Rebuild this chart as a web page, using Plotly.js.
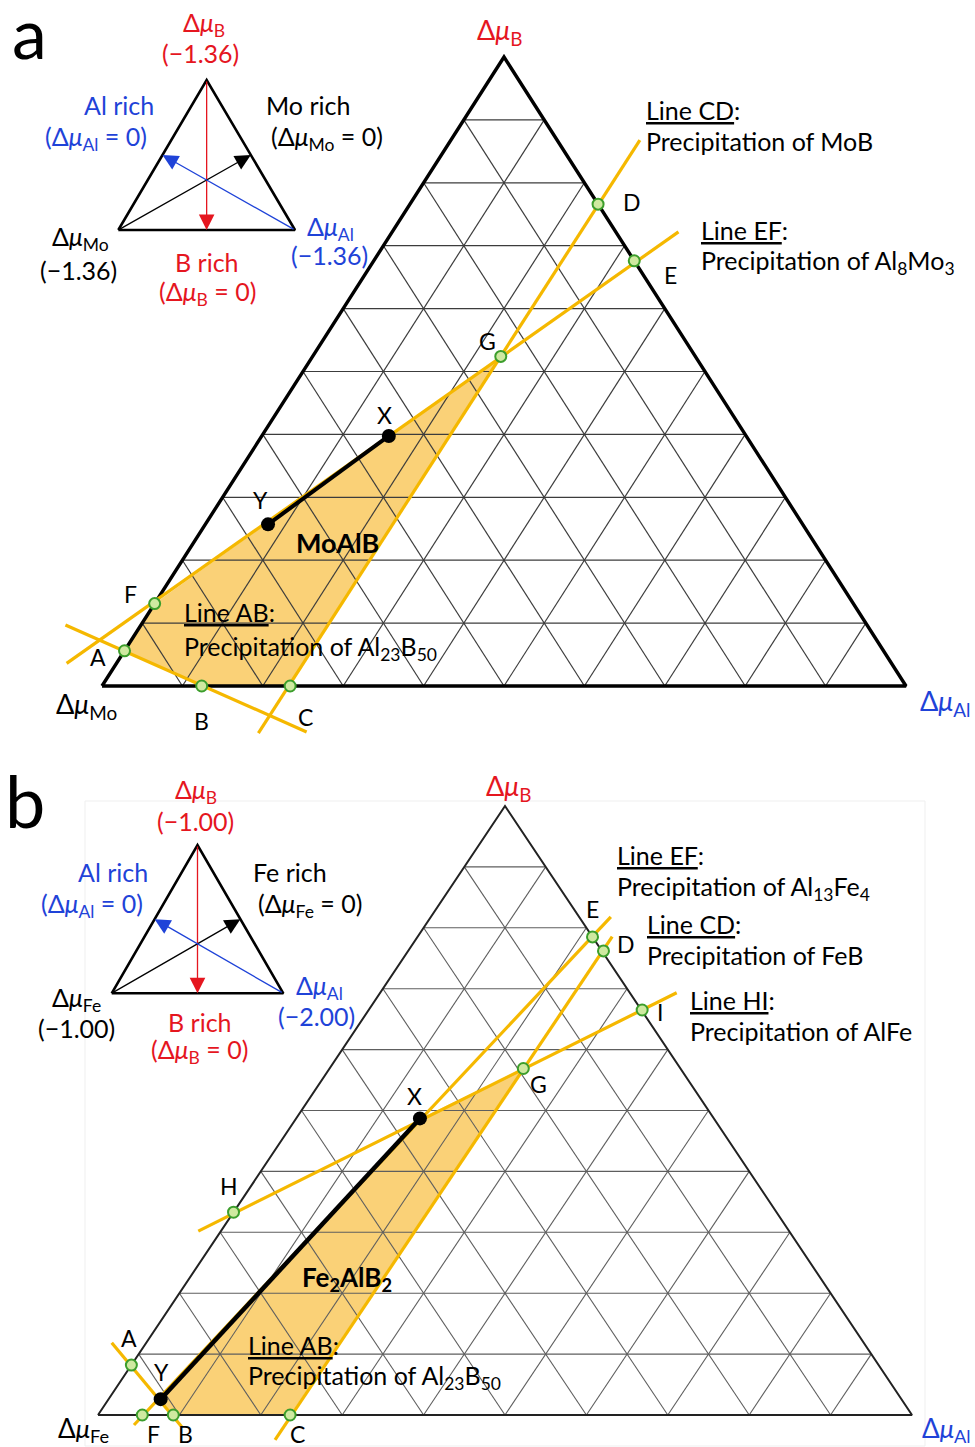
<!DOCTYPE html>
<html><head><meta charset="utf-8">
<script src="https://cdn.plot.ly/plotly-3.0.1.min.js"></script>
<style>body{margin:0;background:#fff}</style>
</head><body><div id="chart" style="width:975px;height:1447px"></div>
<script>
// ================= DATA (ternary fractions: fB = B axis, fAl = Al axis; third = 1 - fB - fAl) =================
// Panel a : MoAlB
const aPtLabels = ['A','B','C','D','E','F','G'];
const aPtB      = [0.056, 0.000, 0.000, 0.766, 0.676, 0.131, 0.524];
const aPtAl     = [0.000, 0.124, 0.234, 0.234, 0.324, 0.000, 0.234];
const aLineNames = ['AB','CD','EF'];
const aLineB0   = [0.097, -0.075, 0.036];
const aLineAl0  = [-0.094, 0.232, -0.062];
const aLineB1   = [-0.073, 0.868, 0.722];
const aLineAl1  = [0.291, 0.235, 0.356];
const aRegionB  = [0.056, 0.000, 0.000, 0.524, 0.131];   // A, B, C, G, F
const aRegionAl = [0.000, 0.124, 0.234, 0.234, 0.000];
const aPathLabels = ['X','Y'];
const aPathB    = [0.3975, 0.257];
const aPathAl   = [0.158, 0.078];
const aLimits   = {B:'−1.36', M:'−1.36', Al:'−1.36'};

// Panel b : Fe2AlB2
const bPtLabels = ['A','B','C','D','E','F','G','H','I'];
const bPtB      = [0.082, 0.000, 0.000, 0.762, 0.785, 0.000, 0.569, 0.333, 0.665];
const bPtAl     = [0.000, 0.0925, 0.236, 0.240, 0.215, 0.0544, 0.238, 0.000, 0.336];
const bLineNames = ['AB','CD','EF','HI'];
const bLineB0   = [0.1187, -0.041, -0.0164, 0.302];
const bLineAl0  = [-0.0425, 0.238, 0.0524, -0.0278];
const bLineB1   = [-0.0192, 0.7854, 0.818, 0.6934];
const bLineAl1  = [0.1124, 0.239, 0.221, 0.3642];
const bRegionB  = [0.026, 0.000, 0.000, 0.569, 0.487];   // Y, B, C, G, X
const bRegionAl = [0.064, 0.0925, 0.236, 0.238, 0.152];
const bPathLabels = ['X','Y'];
const bPathB    = [0.487, 0.026];
const bPathAl   = [0.152, 0.064];
const bLimits   = {B:'−1.00', M:'−1.00', Al:'−2.00'};

// Inset arrows (schematic): from vertex to opposite edge midpoint
const arrowFromB  = [1, 0, 0];
const arrowFromAl = [0, 0, 1];
const arrowToB    = [0, 0.5, 0.5];
const arrowToAl   = [0.5, 0.5, 0];

const GRID_DIV = 10;

// ================= STYLE / LAYOUT =================
const W = 975, H = 1447;
const FONT = 'Lato, "Noto Sans", sans-serif';
const RED = '#e5161f', BLUE = '#1f43d8', BLACK = '#000000';
const YELLOW = '#f5b800', FILL = 'rgba(246,178,28,0.6)';
const GREEN_LINE = '#3c9e2c', GREEN_FILL = '#cfe9a0';
const TXT = 25, PAR = 25, LBL = 23, VTX = 25;
const frames = {
  a:  {x0:102,   base:804,   y0:686,    h:629,   xa:'x',  ya:'y'},
  b:  {x0:98,    base:814,   y0:1415,   h:609,   xa:'x2', ya:'y2'},
  ia: {x0:118.3, base:176.7, y0:230,    h:150,   xa:'x3', ya:'y3'},
  ib: {x0:111.7, base:171.6, y0:993.3,  h:148.3, xa:'x4', ya:'y4'}
};
const arrowColors = [RED, BLACK, BLUE];

const traces = [], annotations = [], shapes = [];
function tx(b, al){ return al + b/2; }
function P(px, py){ return {x: px/W, y: 1 - py/H}; }
function label(text, px, py, size, color, xanchor, extra){
  const p = P(px, py);
  annotations.push(Object.assign({text, x:p.x, y:p.y, xref:'paper', yref:'paper', xanchor: xanchor||'center',
    yanchor:'middle', showarrow:false, borderpad:0, font:{family:FONT, size, color}}, extra||{}));
}

function addTriangleGrid(f, gridColor, gridWidth, edgeColor, edgeWidth){
  const xs = [], ys = [];
  function seg(b0, al0, b1, al1){ xs.push(tx(b0,al0), tx(b1,al1), null); ys.push(b0, b1, null); }
  for (let k = 1; k < GRID_DIV; k++){
    const v = k / GRID_DIV;
    seg(v, 0, v, 1 - v);          // constant B
    seg(0, v, 1 - v, v);          // constant Al
    seg(0, 1 - v, 1 - v, 0);      // constant third component
  }
  traces.push({type:'scatter', mode:'lines', x:xs, y:ys, xaxis:f.xa, yaxis:f.ya,
    line:{color:gridColor, width:gridWidth}, hoverinfo:'skip', showlegend:false});
  const vb = [0, 0, 1, 0], val = [0, 1, 0, 0];
  traces.push({type:'scatter', mode:'lines', x:vb.map((b,i)=>tx(b,val[i])), y:vb, xaxis:f.xa, yaxis:f.ya,
    line:{color:edgeColor, width:edgeWidth}, hoverinfo:'skip', showlegend:false});
}

function addPanel(f, d, st){
  // region
  traces.push({type:'scatter', mode:'lines', x:d.regB.map((b,i)=>tx(b,d.regAl[i])), y:d.regB,
    xaxis:f.xa, yaxis:f.ya, fill:'toself', fillcolor:FILL, line:{width:0}, hoverinfo:'skip', showlegend:false});
  addTriangleGrid(f, st.gridColor, st.gridWidth, st.edgeColor, st.edgeWidth);
  // precipitation lines
  const lx = [], ly = [];
  d.lineB0.forEach((b0, i) => {
    lx.push(tx(b0, d.lineAl0[i]), tx(d.lineB1[i], d.lineAl1[i]), null);
    ly.push(b0, d.lineB1[i], null);
  });
  traces.push({type:'scatter', mode:'lines', x:lx, y:ly, xaxis:f.xa, yaxis:f.ya,
    line:{color:YELLOW, width:3.2}, hoverinfo:'skip', showlegend:false});
  // path X-Y
  traces.push({type:'scatter', mode:'lines+markers', x:d.pathB.map((b,i)=>tx(b,d.pathAl[i])), y:d.pathB,
    xaxis:f.xa, yaxis:f.ya, line:{color:BLACK, width:st.pathWidth}, marker:{color:BLACK, size:14},
    hoverinfo:'skip', showlegend:false});
  // points
  traces.push({type:'scatter', mode:'markers', x:d.ptB.map((b,i)=>tx(b,d.ptAl[i])), y:d.ptB,
    xaxis:f.xa, yaxis:f.ya, marker:{symbol:'circle', size:11, color:GREEN_FILL, line:{color:GREEN_LINE, width:2}},
    hoverinfo:'skip', showlegend:false});
  // point labels
  const allL = d.ptLabels.concat(d.pathLabels), allB = d.ptB.concat(d.pathB), allAl = d.ptAl.concat(d.pathAl);
  allL.forEach((L, i) => {
    const o = st.offsets[L];
    annotations.push({text:L, x:tx(allB[i], allAl[i]), y:allB[i], xref:f.xa, yref:f.ya, showarrow:false,
      xshift:o[0], yshift:-o[1], xanchor:'center', yanchor:'middle', borderpad:0,
      font:{family:FONT, size:LBL, color:BLACK}});
  });
}

function addInset(f){
  const vb = [0, 0, 1, 0], val = [0, 1, 0, 0];
  traces.push({type:'scatter', mode:'lines', x:vb.map((b,i)=>tx(b,val[i])), y:vb, xaxis:f.xa, yaxis:f.ya,
    line:{color:BLACK, width:2.6}, hoverinfo:'skip', showlegend:false});
  arrowFromB.forEach((b0, i) => {
    annotations.push({text:'', showarrow:true, xref:f.xa, yref:f.ya, axref:f.xa, ayref:f.ya,
      x:tx(arrowToB[i], arrowToAl[i]), y:arrowToB[i], ax:tx(b0, arrowFromAl[i]), ay:b0,
      arrowhead:2, arrowsize:2.4, arrowwidth:1.3, arrowcolor:arrowColors[i], standoff:0, startstandoff:0});
  });
}

// ---------- Panel a ----------
addPanel(frames.a, {ptLabels:aPtLabels, ptB:aPtB, ptAl:aPtAl, lineB0:aLineB0, lineAl0:aLineAl0, lineB1:aLineB1,
  lineAl1:aLineAl1, regB:aRegionB, regAl:aRegionAl, pathLabels:aPathLabels, pathB:aPathB, pathAl:aPathAl},
  {gridColor:'#3c3c3c', gridWidth:1.2, edgeColor:'#000', edgeWidth:3.4, pathWidth:4,
   offsets:{A:[-27,6], B:[0,35], C:[15,31], D:[34,-2], E:[36,14], F:[-24,-10], G:[-13,-15], X:[-4,-21], Y:[-8,-24]}});
// ---------- Panel b ----------
shapes.push({type:'rect', xref:'paper', yref:'paper', x0:85/W, x1:925/W, y0:1-1446/H, y1:1-801/H,
  line:{color:'#efefef', width:1}, layer:'below'});
addPanel(frames.b, {ptLabels:bPtLabels, ptB:bPtB, ptAl:bPtAl, lineB0:bLineB0, lineAl0:bLineAl0, lineB1:bLineB1,
  lineAl1:bLineAl1, regB:bRegionB, regAl:bRegionAl, pathLabels:bPathLabels, pathB:bPathB, pathAl:bPathAl},
  {gridColor:'#5e5e5e', gridWidth:1.1, edgeColor:'#222', edgeWidth:2, pathWidth:4.5,
   offsets:{A:[-2,-27], B:[12,19], C:[7,19], D:[23,-7], E:[0,-28], F:[11,19], G:[15,16], H:[-5,-26], I:[18,2], X:[-5,-22], Y:[1,-27]}});
addInset(frames.ia);
addInset(frames.ib);

// ---------- Texts panel a ----------
const dmu = s => 'Δ<i>μ</i><sub>' + s + '</sub>';
label('a', 29, 32, 70, BLACK);
label(dmu('B'), 500, 32, 27, RED);
label(dmu('Mo'), 86, 705, 27, BLACK);
label(dmu('Al'), 945, 702, 27, BLUE);
label('<u>Line CD</u>:', 645, 110, TXT, BLACK, 'left');
label('Precipitation of MoB', 645, 141, TXT, BLACK, 'left');
label('<u>Line EF</u>:', 700, 230, TXT, BLACK, 'left');
label('Precipitation of Al<sub>8</sub>Mo<sub>3</sub>', 700, 262, TXT, BLACK, 'left');
label('<u>Line AB</u>:', 183, 612, TXT, BLACK, 'left');
label('Precipitation of Al<sub>23</sub>B<sub>50</sub>', 183, 648, TXT, BLACK, 'left');
label('<b>MoAlB</b>', 337, 543, 27, BLACK);
// inset a
label(dmu('B'), 204, 24, VTX, RED);
label('(' + aLimits.B + ')', 200, 53, PAR, RED);
label('Al rich', 119, 105, 25, BLUE);
label('(' + dmu('Al') + ' = 0)', 96, 138, PAR, BLUE);
label('Mo rich', 308, 105, 25, BLACK);
label('(' + dmu('Mo') + ' = 0)', 327, 138, PAR, BLACK);
label(dmu('Mo'), 80, 238, VTX, BLACK);
label('(' + aLimits.M + ')', 78, 270, PAR, BLACK);
label('B rich', 207, 262, 25, RED);
label('(' + dmu('B') + ' = 0)', 207, 293, PAR, RED);
label(dmu('Al'), 330, 228, VTX, BLUE);
label('(' + aLimits.Al + ')', 329, 255, PAR, BLUE);

// ---------- Texts panel b ----------
label('b', 25, 800, 72, BLACK);
label(dmu('B'), 509, 787, 27, RED);
label(dmu('Fe'), 83, 1429, 26, BLACK);
label(dmu('Al'), 946, 1429, 26, BLUE);
label('<u>Line EF</u>:', 616, 855, TXT, BLACK, 'left');
label('Precipitation of Al<sub>13</sub>Fe<sub>4</sub>', 616, 888, TXT, BLACK, 'left');
label('<u>Line CD</u>:', 646, 924, TXT, BLACK, 'left');
label('Precipitation of FeB', 646, 955, TXT, BLACK, 'left');
label('<u>Line HI</u>:', 689, 1000, TXT, BLACK, 'left');
label('Precipitation of AlFe', 689, 1031, TXT, BLACK, 'left');
label('<u>Line AB</u>:', 247, 1345, TXT, BLACK, 'left');
label('Precipitation of Al<sub>23</sub>B<sub>50</sub>', 247, 1377, TXT, BLACK, 'left');
label('<b>Fe<sub>2</sub>AlB<sub>2</sub></b>', 347, 1278, 26, BLACK);
// inset b
label(dmu('B'), 196, 791, VTX, RED);
label('(' + bLimits.B + ')', 195, 821, PAR, RED);
label('Al rich', 113, 872, 25, BLUE);
label('(' + dmu('Al') + ' = 0)', 92, 905, PAR, BLUE);
label('Fe rich', 290, 872, 25, BLACK);
label('(' + dmu('Fe') + ' = 0)', 310, 905, PAR, BLACK);
label(dmu('Fe'), 76, 999, VTX, BLACK);
label('(' + bLimits.M + ')', 76, 1028, PAR, BLACK);
label('B rich', 200, 1022, 25, RED);
label('(' + dmu('B') + ' = 0)', 199, 1051, PAR, RED);
label(dmu('Al'), 319, 987, VTX, BLUE);
label('(' + bLimits.Al + ')', 316, 1016, PAR, BLUE);

// ---------- Axes ----------
const layout = {width:W, height:H, margin:{l:0,r:0,t:0,b:0}, paper_bgcolor:'#fff', plot_bgcolor:'rgba(0,0,0,0)',
  showlegend:false, annotations, shapes};
function setAxes(f, idx){
  const xk = 'xaxis' + (idx>1?idx:''), yk = 'yaxis' + (idx>1?idx:'');
  layout[xk] = {domain:[0,1], range:[-f.x0/f.base, (W - f.x0)/f.base], visible:false, fixedrange:true,
    showgrid:false, zeroline:false, anchor:f.ya};
  layout[yk] = {domain:[0,1], range:[(f.y0 - H)/f.h, f.y0/f.h], visible:false, fixedrange:true,
    showgrid:false, zeroline:false, anchor:f.xa};
}
setAxes(frames.a, 1); setAxes(frames.b, 2); setAxes(frames.ia, 3); setAxes(frames.ib, 4);

Plotly.newPlot('chart', traces, layout, {staticPlot:true, displayModeBar:false});
</script></body></html>
